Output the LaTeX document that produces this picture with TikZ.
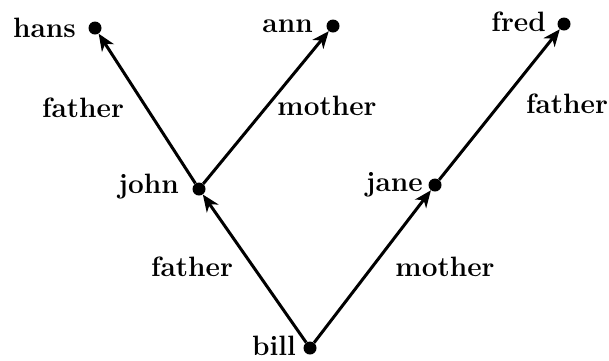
\documentclass[tikz,border=0pt]{standalone}
\usetikzlibrary{arrows.meta}
\tikzset{
  pt/.style={circle,fill=black,inner sep=0pt,minimum size=13pt},
  lbl/.style={font=\fontsize{28}{33}\selectfont\bfseries,inner sep=0pt},
  edge/.style={line width=3pt,-{Stealth[length=17pt,width=14pt,inset=5pt]}}
}
\begin{document}
\begin{tikzpicture}[x=1pt,y=-1pt]
\useasboundingbox (0,0) rectangle (609,360);
\node[pt] (hans) at (95,28) {};
\node[pt] (ann) at (333,26) {};
\node[pt] (fred) at (564,24) {};
\node[pt] (john) at (199,189) {};
\node[pt] (jane) at (435,185) {};
\node[pt] (bill) at (310,348) {};
\node[lbl,anchor=east] (th) at (76,28) {hans};
\node[lbl,anchor=east] (ta) at (313,26) {ann};
\node[lbl,anchor=east] (tf) at (546,22) {fred};
\node[lbl,anchor=east] (tj) at (179,187) {john};
\node[lbl,anchor=east] (tn) at (423,185) {jane};
\node[lbl,anchor=east] (tb) at (296,346) {bill};
\draw[edge] (bill) -- (john);
\draw[edge] (john) -- (hans);
\draw[edge] (john) -- (ann);
\draw[edge] (bill) -- (jane);
\draw[edge] (jane) -- (fred);
\node[lbl] (l1) at (83,108) {father};
\node[lbl] (l2) at (327,106) {mother};
\node[lbl] (l3) at (567,104) {father};
\node[lbl] (l4) at (192,267) {father};
\node[lbl] (l5) at (445,267) {mother};
\end{tikzpicture}
\end{document}
